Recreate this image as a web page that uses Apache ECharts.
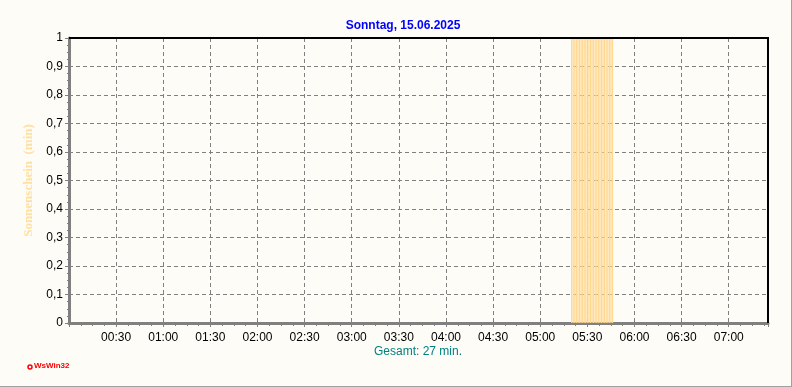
<!DOCTYPE html>
<html>
<head>
<meta charset="utf-8">
<script src="https://cdn.jsdelivr.net/npm/echarts@6/dist/echarts.min.js"></script>
<style>
html,body{margin:0;padding:0;background:#fdfcf7;}
#c{width:792px;height:387px;}
</style>
</head>
<body>
<div id="c"></div>
<script>
// Data (minutes after midnight with sunshine, value in min)
var titleText = 'Sonntag, 15.06.2025';
var yAxisName = 'Sonnenschein  (min)';
var totalText = 'Gesamt: 27 min.';
var sunMinutes = [320,321,322,323,324,325,326,327,328,329,330,331,332,333,334,335,336,337,338,339,340,341,342,343,344,345,346];
var sunValues  = [1,1,1,1,1,1,1,1,1,1,1,1,1,1,1,1,1,1,1,1,1,1,1,1,1,1,1];
var xMin = 0, xMax = 445, xStep = 30;
var yMin = 0, yMax = 1, yStep = 0.1;

var chart = echarts.init(document.getElementById('c'), null, {renderer:'canvas'});
var font = 'Liberation Sans, Arial, sans-serif';
function pad(n){return (n<10?'0':'')+n;}
var seriesData = sunMinutes.map(function(m,i){return [m, sunValues[i]];});

chart.setOption({
  backgroundColor:'#fdfcf7',
  animation:false,
  title:{text:titleText,left:398,top:15,textAlign:'center',
    textStyle:{color:'#0000ff',fontSize:12,fontWeight:'bold',fontFamily:font}},
  grid:{left:69,right:24,top:38,bottom:64,show:false},
  xAxis:{type:'value',min:xMin,max:xMax,interval:xStep,
    axisLine:{show:true,lineStyle:{color:'#808080',width:3}},
    axisTick:{show:true,length:4,lineStyle:{color:'#808080',width:1}},
    minorTick:{show:true,splitNumber:4,length:3,lineStyle:{color:'#808080'}},
    splitLine:{show:true,lineStyle:{color:'#808080',type:[4,3],width:1}},
    axisLabel:{color:'#000',fontSize:12,fontFamily:font,margin:9,showMaxLabel:false,
      formatter:function(v){ if(v===0 || v>=xMax) return ''; return pad(Math.floor(v/60))+':'+pad(v%60);}}
  },
  yAxis:{type:'value',min:yMin,max:yMax,interval:yStep,
    name:yAxisName,nameLocation:'middle',nameGap:33,nameRotate:90,
    nameTextStyle:{color:'#ffe0a0',fontSize:13,fontWeight:'bold',fontFamily:'Liberation Serif, Times New Roman, serif'},
    axisLine:{show:true,lineStyle:{color:'#808080',width:3}},
    axisTick:{show:true,length:4,lineStyle:{color:'#808080',width:1}},
    minorTick:{show:true,splitNumber:4,length:2,lineStyle:{color:'#808080'}},
    splitLine:{show:true,lineStyle:{color:'#808080',type:[4,3],width:1}},
    axisLabel:{color:'#000',fontSize:12,fontFamily:font,margin:6,
      formatter:function(v){ return String(Math.round(v*10)/10).replace('.',','); }}
  },
  series:[{type:'bar',data:seriesData,barWidth:1.2,itemStyle:{color:'#ffd890'},z:1}],
  graphic:[
    {type:'line',z:100,shape:{x1:69,y1:38,x2:768,y2:38},style:{stroke:'#000',lineWidth:2}},
    {type:'line',z:100,shape:{x1:768,y1:37,x2:768,y2:323},style:{stroke:'#000',lineWidth:2}},
    {type:'text',x:418,y:346,style:{text:totalText,fill:'#008080',font:'12px '+font,align:'center'}},
    {type:'circle',shape:{cx:30,cy:367,r:2},style:{fill:'none',stroke:'#ff0000',lineWidth:1.5}},
    {type:'text',x:34,y:362,style:{text:'WsWin32',fill:'#ff0000',font:'bold 8px '+font}},
    {type:'line',shape:{x1:791.5,y1:0,x2:791.5,y2:387},style:{stroke:'#a0a0a0',lineWidth:1}},
    {type:'line',shape:{x1:0,y1:386.5,x2:792,y2:386.5},style:{stroke:'#a0a0a0',lineWidth:1}}
  ]
});
</script>
</body>
</html>
